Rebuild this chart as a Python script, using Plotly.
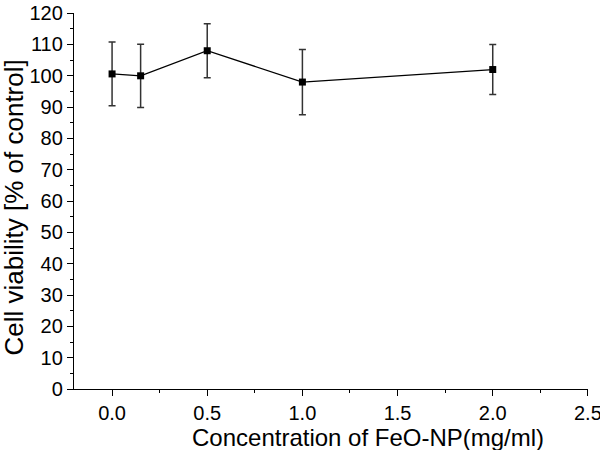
import plotly.graph_objects as go

concentration = [0.0, 0.15, 0.5, 1.0, 2.0]
viability = [100.6, 100.0, 108.0, 98.0, 102.0]
error = [10.2, 10.1, 8.6, 10.4, 8.0]

x_ticks = [0.0, 0.5, 1.0, 1.5, 2.0, 2.5]
x_tick_labels = ["0.0", "0.5", "1.0", "1.5", "2.0", "2.5"]
y_ticks = list(range(0, 121, 10))

x_title = "Concentration of FeO-NP(mg/ml)"
y_title = "Cell viability [% of control]"

fig = go.Figure()
fig.add_trace(go.Scatter(
    x=concentration, y=viability,
    mode="lines+markers",
    line=dict(color="black", width=1.3),
    marker=dict(symbol="square", size=7, color="black"),
    error_y=dict(type="data", array=error, visible=True,
                 color="#333333", thickness=1.5, width=3.5),
    showlegend=False,
    cliponaxis=False,
))

font = "Liberation Sans, Arial, Helvetica, sans-serif"
fig.update_layout(
    width=600, height=450,
    margin=dict(l=74, r=12, t=13, b=61, autoexpand=False),
    paper_bgcolor="white", plot_bgcolor="white",
    font=dict(family=font, color="black"),
)
fig.update_xaxes(
    range=[-0.2, 2.5005], tickvals=x_ticks, ticktext=x_tick_labels,
    automargin=False, ticklabeloverflow="allow",
    showgrid=False, zeroline=False, showline=True, linecolor="black", linewidth=1.3,
    ticks="outside", ticklen=6, tickwidth=1.3, tickcolor="black",
    minor=dict(dtick=0.25, ticks="outside", ticklen=3, tickwidth=1.1, tickcolor="black"),
    tickfont=dict(size=20),
)
fig.update_yaxes(
    range=[0, 120.05], tickvals=y_ticks,
    automargin=False, ticklabeloverflow="allow",
    showgrid=False, zeroline=False, showline=True, linecolor="black", linewidth=1.3,
    ticks="outside", ticklen=6, tickwidth=1.3, tickcolor="black",
    minor=dict(dtick=5, ticks="outside", ticklen=3, tickwidth=1.1, tickcolor="black"),
    tickfont=dict(size=20),
)
fig.add_annotation(text=x_title, xref="paper", yref="paper",
                   x=0.572, y=-0.1277, xanchor="center", yanchor="middle",
                   showarrow=False, font=dict(size=24))
fig.add_annotation(text=y_title, xref="paper", yref="paper",
                   x=-0.1158, y=0.484, xanchor="center", yanchor="middle",
                   textangle=-90, showarrow=False, font=dict(size=26))

fig.write_html("out.html", config={"displayModeBar": False},
               post_script="document.body.style.margin='0';document.body.style.overflow='hidden';")
